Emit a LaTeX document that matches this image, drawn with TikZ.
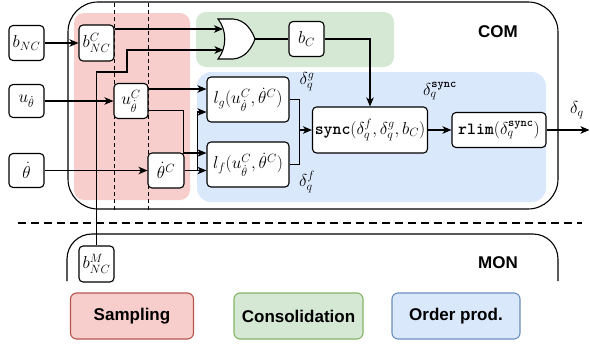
\documentclass[tikz,border=0pt]{standalone}
\usepackage{amsmath}
\usepackage{fontspec}
\newfontfamily\lsans{Liberation Sans}
\usetikzlibrary{arrows.meta,calc}
\definecolor{redf}{HTML}{F8CECC}
\definecolor{redd}{HTML}{B85450}
\definecolor{greenf}{HTML}{D5E8D4}
\definecolor{greend}{HTML}{82B366}
\definecolor{bluef}{HTML}{DAE8FC}
\definecolor{blued}{HTML}{6C8EBF}
\newcommand{\tsync}{\text{\ttfamily\bfseries sync}}
\begin{document}
\begin{tikzpicture}[x=1pt,y=-1pt,
  blk/.style={draw, fill=white, rounded corners=4pt, inner sep=0pt, line width=1.1pt, font=\fontsize{17}{20}\selectfont},
  arr/.style={-{Stealth[length=9pt,width=7.5pt,inset=2.5pt]}},
  wire/.style={line width=1.1pt},
  region/.style={rounded corners=10pt},
  legend/.style={draw, rounded corners=6pt, line width=1.1pt, minimum height=46pt, inner sep=0pt, font=\lsans\bfseries\fontsize{17}{20}\selectfont},
  lbl/.style={inner sep=0pt, font=\fontsize{17}{20}\selectfont},
  ttl/.style={inner sep=0pt, font=\lsans\bfseries\fontsize{17}{20}\selectfont},
  vdash/.style={line width=0.9pt, dash pattern=on 4pt off 3pt},
  hdash/.style={line width=1.8pt, dash pattern=on 8pt off 5pt}
]
\useasboundingbox (0,0) rectangle (590,348);

% regions
\fill[redf, region] (74,13) rectangle (190,200);
\fill[greenf, region] (196,12) rectangle (394,67);
\fill[bluef, rounded corners=14pt] (197,72) rectangle (546,202);

% dashed separators
\draw[vdash] (114,3) -- (114,212);
\draw[vdash] (148,3) -- (148,212);
\draw[hdash] (18,223) -- (582,223);

% COM and MON frames
\draw[line width=1.1pt, rounded corners=30pt] (68,2) rectangle (558,209);
\draw[line width=1.1pt, rounded corners=25pt] (67,281) -- (67,234) -- (558,234) -- (558,281);
\node[ttl] (com) at (498,32) {COM};
\node[ttl] (mon) at (498,263) {MON};

% nodes
\node[blk, minimum width=35pt, minimum height=35pt] (bNC) at (26.5,43) {$b_{NC}$};
\node[blk, minimum width=35pt, minimum height=33pt] (uth) at (26.5,101) {$u_{\dot\theta}$};
\node[blk, minimum width=35pt, minimum height=34pt] (th) at (26.5,170.5) {$\dot\theta$};
\node[blk, minimum width=35pt, minimum height=36pt] (bNCC) at (96.5,43) {$b_{NC}^{C}$};
\node[blk, minimum width=34pt, minimum height=35pt] (uC) at (131,101) {$u_{\dot\theta}^{C}$};
\node[blk, minimum width=36pt, minimum height=35pt] (thC) at (166,170.5) {$\dot\theta^{C}$};
\node[blk, minimum width=35pt, minimum height=35pt] (bC) at (306.5,39) {$b_{C}$};
\node[blk, minimum width=82pt, minimum height=45pt] (lg) at (248,99.5) {$l_g(u_{\dot\theta}^{C},\dot\theta^{C})$};
\node[blk, minimum width=82pt, minimum height=45pt] (lf) at (248,164.5) {$l_f(u_{\dot\theta}^{C},\dot\theta^{C})$};
\node[blk, minimum width=115pt, minimum height=46pt] (sync) at (370,130) {$\tsync(\delta_q^f,\delta_q^g,b_C)$};
\node[blk, minimum width=94pt, minimum height=35pt] (rlim) at (499,130) {$\text{\ttfamily\bfseries rlim}(\delta_q^{\tsync})$};
\node[blk, minimum width=35pt, minimum height=36pt] (bNCM) at (96.5,264) {$b_{NC}^{M}$};

% OR gate
\draw[line width=1.1pt, fill=white] (218,19) -- (233,19) .. controls (246,20) and (252,31) .. (255,39)
  .. controls (252,47) and (246,58) .. (233,59) -- (218,59) .. controls (227,48) and (227,30) .. (218,19) -- cycle;
\coordinate (orin1) at (223,29);
\coordinate (orin2) at (223.5,50);
\coordinate (orout) at (255,39);

% labels
\node[lbl] (dg) at (307,82) {$\delta_q^g$};
\node[lbl] (df) at (307,182) {$\delta_q^f$};
\node[lbl] (ds) at (440,91) {$\delta_q^{\tsync}$};
\node[lbl] (dq) at (577,110) {$\delta_q$};

% connectors
\draw[wire,arr] (bNC.east) -- (bNCC.west);
\draw[wire,arr] (uth.east) -- (uC.west);
\draw[wire,arr] (th.east) -- (thC.west);
\coordinate (bNCCo) at ($(bNCC.east)+(0,-14)$);
\draw[wire,arr] (bNCCo) -- (orin1);
\coordinate (k1) at (127,72);
\draw[wire,arr] (bNCM.north) |- (k1) |- (orin2);
\draw[wire] (orout) -- (bC.west);
\draw[wire,arr] (bC.east) -| (sync.north);
\coordinate (uCo1) at ($(uC.east)+(0,-12)$);
\draw[wire,arr] (uCo1) -- (uCo1 -| lg.west);
\coordinate (uCo2) at ($(uC.east)+(0,9.5)$);
\coordinate (lfi1) at ($(lf.west)+(0,-11.5)$);
\draw[wire,arr] (uCo2) -| ($(lfi1)+(-23,0)$) -- (lfi1);
\draw[wire,arr] (thC.east) -- (thC.east -| lf.west);
\coordinate (lgi2) at ($(lg.west)+(0,12.5)$);
\draw[wire,arr] ($(thC.east)+(13,0)$) |- (lgi2);
\coordinate (jn) at ($(sync.west)+(-12.5,0)$);
\draw[wire] (lg.east) -| (jn);
\draw[wire] (lf.east) -| (jn);
\draw[wire,arr] (jn) -- (sync.west);
\draw[wire,arr] (sync.east) -- (rlim.west);
\coordinate (out) at (589.5,130);
\draw[wire,arr] (rlim.east) -- (out);

% legend
\node[legend, fill=redf, draw=redd, minimum width=123pt] (lsamp) at (132,316) {Sampling};
\node[legend, fill=greenf, draw=greend, minimum width=129pt] (lcons) at (298.5,316) {Consolidation};
\node[legend, fill=bluef, draw=blued, minimum width=128pt] (lord) at (456,316) {Order prod.};
\end{tikzpicture}
\end{document}
